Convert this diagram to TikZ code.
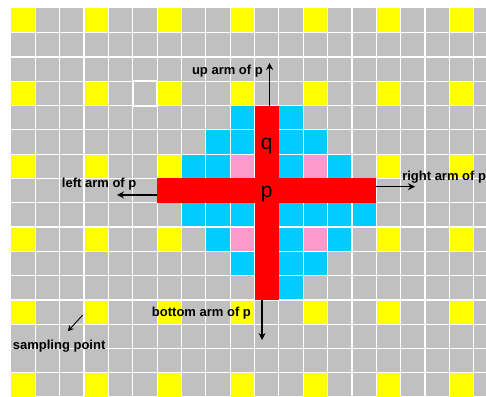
\documentclass[tikz,border=0pt]{standalone}
\usepackage{fontspec}
\setmainfont{Liberation Sans}
\usetikzlibrary{arrows.meta}
\definecolor{cellgray}{RGB}{192,192,192}
\definecolor{sampleyellow}{RGB}{255,255,0}
\definecolor{armred}{RGB}{255,0,0}
\definecolor{spreadblue}{RGB}{0,204,255}
\definecolor{samplepink}{RGB}{255,153,204}
\tikzset{
  gridline/.style={white, line width=1.2pt},
  armlabel/.style={font=\fontsize{13}{15}\selectfont\bfseries, inner sep=0pt},
  armarrow/.style={-{Stealth[length=7pt, width=7pt]}, line width=1.3pt},
  celltext/.style={font=\fontsize{21}{24}\selectfont, inner sep=0pt, anchor=base}
}

\begin{document}
\begin{tikzpicture}[x=24.35pt, y=-24.3pt]
  \useasboundingbox (-0.452,-0.342) rectangle (19.507,15.955);
  \begin{scope}
    \clip (0,0) rectangle (19.507,15.955);
    \fill[cellgray] (0,0) rectangle (19.507,15.955);
    % sampling points
    \foreach \c in {0,3,...,18}
      \foreach \r in {0,3,...,15}
        \fill[sampleyellow] (\c,\r) rectangle ++(1,1);
    \foreach \c/\r in {9/4, 11/4, 8/5, 9/5, 11/5, 12/5, 7/6, 8/6, 11/6, 13/6,
                       7/8, 8/8, 9/8, 11/8, 12/8, 13/8, 14/8, 8/9, 11/9, 13/9,
                       9/10, 11/10, 12/10, 11/11}
      \fill[spreadblue] (\c,\r) rectangle ++(1,1);
    \foreach \c/\r in {9/6, 12/6, 9/9, 12/9}
      \fill[samplepink] (\c,\r) rectangle ++(1,1);
    \foreach \c in {1,...,19}
      \draw[gridline] (\c,0) -- (\c,15.955);
    \foreach \r in {1,...,15}
      \draw[gridline] (0,\r) -- (19.507,\r);
    \draw[white, line width=2pt] (5,3) rectangle ++(1,1);
    % arms of p
    \fill[armred] (6,7) rectangle (15,8);
    \fill[armred] (10,4) rectangle (11,12);
  \end{scope}

  \node[celltext] (q) at (10.5,5.83) {q};
  \node[celltext] (p) at (10.5,7.8) {p};

  \coordinate (upstart) at (10.62,4);
  \coordinate (uptip) at (10.62,2.25);
  \coordinate (leftstart) at (6,7.68);
  \coordinate (lefttip) at (4.35,7.68);
  \coordinate (rightstart) at (15,7.34);
  \coordinate (righttip) at (16.59,7.34);
  \coordinate (bottomstart) at (10.31,12);
  \coordinate (bottomtip) at (10.31,13.65);
  \coordinate (samplestart) at (2.94,12.63);
  \coordinate (sampletip) at (2.33,13.29);

  \draw[armarrow] (upstart) -- (uptip);
  \draw[armarrow] (leftstart) -- (lefttip);
  \draw[armarrow] (rightstart) -- (righttip);
  \draw[armarrow] (bottomstart) -- (bottomtip);
  \draw[-{Stealth[length=6pt, width=6pt]}, line width=0.9pt] (samplestart) -- (sampletip);

  \node[armlabel, anchor=east] (uplabel) at (10.35,2.6) {up arm of p};
  \node[armlabel] (leftlabel) at (3.62,7.23) {left arm of p};
  \node[armlabel, anchor=west] (rightlabel) at (16.06,6.94) {right arm of p};
  \node[armlabel, anchor=east] (bottomlabel) at (9.86,12.54) {bottom arm of p};
  \node[armlabel, anchor=west] (samplelabel) at (0.07,13.9) {sampling point};
\end{tikzpicture}
\end{document}
